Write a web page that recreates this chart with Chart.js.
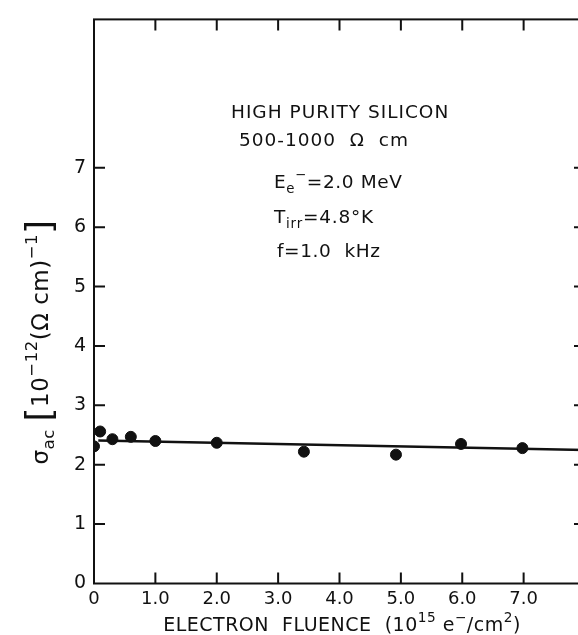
<!DOCTYPE html>
<html>
<head>
<meta charset="utf-8">
<script src="https://cdn.jsdelivr.net/npm/chart.js@4"></script>
<style>
  html, body { margin: 0; padding: 0; background: #fff; overflow: hidden; }
  #wrap { width: 600px; height: 635px; }
</style>
</head>
<body>
<div id="wrap"><canvas id="chart" width="600" height="635"></canvas></div>
<script>
// measured points
const fluence = [0, 0.1, 0.3, 0.6, 1.0, 2.0, 3.42, 4.92, 5.98, 6.98];
const sigmaAc = [2.31, 2.56, 2.43, 2.47, 2.40, 2.37, 2.22, 2.17, 2.35, 2.28];
// fitted line ends
const fitX = [0.07, 8.0];
const fitY = [2.41, 2.25];
// ticks
const xTicks = [0, 1, 2, 3, 4, 5, 6, 7];
const yTicks = [0, 1, 2, 3, 4, 5, 6, 7];

const FONT = '"DejaVu Sans", sans-serif';
const INK = '#111';

// draws a run of text with sub/superscript pieces
function drawRich(ctx, parts, x, y, size, align, spacing) {
  ctx.letterSpacing = (spacing || 0) + 'px';
  const fontOf = p => (p.s ? size * 0.72 : (p.big || size)) + 'px ' + FONT;
  const widths = parts.map(p => {
    ctx.font = fontOf(p);
    return ctx.measureText(p.t).width;
  });
  const total = widths.reduce((a, b) => a + b, 0);
  let cx = align === 'center' ? x - total / 2 : x;
  ctx.textBaseline = 'middle';
  ctx.textAlign = 'left';
  parts.forEach((p, i) => {
    ctx.font = fontOf(p);
    let dy = 0;
    if (p.s === 'sub') dy = size * 0.35;
    if (p.s === 'sup') dy = -size * 0.42;
    ctx.fillText(p.t, cx, y + dy);
    cx += widths[i];
  });
  ctx.letterSpacing = '0px';
}

const framePlugin = {
  id: 'frame',
  afterDraw(chart) {
    const { ctx, chartArea: a, scales: { x, y } } = chart;
    ctx.save();
    ctx.strokeStyle = INK;
    ctx.fillStyle = INK;
    ctx.lineWidth = 2;
    ctx.strokeRect(a.left, a.top, a.right - a.left, a.bottom - a.top);
    const len = 11;
    ctx.beginPath();
    xTicks.slice(1).forEach(v => {
      const px = x.getPixelForValue(v);
      ctx.moveTo(px, a.bottom); ctx.lineTo(px, a.bottom - len);
      ctx.moveTo(px, a.top); ctx.lineTo(px, a.top + len);
    });
    yTicks.slice(1).forEach(v => {
      const py = y.getPixelForValue(v);
      ctx.moveTo(a.left, py); ctx.lineTo(a.left + len, py);
      ctx.moveTo(a.right, py); ctx.lineTo(a.right - len, py);
    });
    ctx.stroke();

    // annotations
    drawRich(ctx, [{ t: 'HIGH PURITY SILICON' }], 231, 113, 18.5, 'left', 1);
    drawRich(ctx, [{ t: '500-1000  Ω  cm' }], 239, 141, 18.5, 'left', 1);
    drawRich(ctx, [{ t: 'E' }, { t: 'e', s: 'sub' }, { t: '−', s: 'sup' }, { t: '=2.0 MeV' }], 274, 183, 18.5, 'left', 0.6);
    drawRich(ctx, [{ t: 'T' }, { t: 'irr', s: 'sub' }, { t: '=4.8°K' }], 274, 218, 18.5, 'left', 0.8);
    drawRich(ctx, [{ t: 'f=1.0  kHz' }], 277, 252, 18.5, 'left', 0.6);

    // x axis title
    drawRich(ctx, [{ t: 'ELECTRON  FLUENCE  (10' }, { t: '15', s: 'sup' }, { t: ' e' }, { t: '−', s: 'sup' }, { t: '/cm' }, { t: '2', s: 'sup' }, { t: ')' }], 342, 626, 19, 'center', 0.5);

    // y axis title, rotated
    ctx.translate(42, 342);
    ctx.rotate(-Math.PI / 2);
    drawRich(ctx, [{ t: 'σ' }, { t: 'ac', s: 'sub' }, { t: ' ' }, { t: '[', big: 36 }, { t: '10' }, { t: '−12', s: 'sup' }, { t: '(Ω cm)' }, { t: '−1', s: 'sup' }, { t: ']', big: 36 }], 0, 0, 23, 'center', 0.5);
    ctx.restore();
  }
};

new Chart(document.getElementById('chart'), {
  type: 'scatter',
  data: {
    datasets: [
      {
        label: 'fit',
        data: fitX.map((v, i) => ({ x: v, y: fitY[i] })),
        showLine: true,
        borderColor: INK,
        borderWidth: 2.5,
        pointRadius: 0,
        order: 2
      },
      {
        label: 'sigma',
        data: fluence.map((v, i) => ({ x: v, y: sigmaAc[i] })),
        backgroundColor: INK,
        borderColor: INK,
        pointRadius: 5.5,
        order: 1
      }
    ]
  },
  options: {
    responsive: false,
    animation: false,
    devicePixelRatio: 1,
    layout: { padding: { top: 14, right: 15, left: 0, bottom: 0 } },
    plugins: { legend: { display: false }, tooltip: { enabled: false } },
    scales: {
      x: {
        type: 'linear', min: 0, max: 8,
        afterBuildTicks: s => { s.ticks = xTicks.map(v => ({ value: v })); },
        afterFit: s => { s.height = 51.5; },
        grid: { display: false, drawTicks: false },
        border: { display: false },
        ticks: {
          padding: 5, color: INK, maxRotation: 0,
          font: { family: FONT, size: 18 },
          callback: v => v === 0 ? '0' : Number(v).toFixed(1)
        }
      },
      y: {
        type: 'linear', min: 0, max: 9.5,
        afterBuildTicks: s => { s.ticks = yTicks.map(v => ({ value: v })); },
        afterFit: s => { s.width = 94; },
        grid: { display: false, drawTicks: false },
        border: { display: false },
        ticks: {
          padding: 8, color: INK,
          font: { family: FONT, size: 19 },
          callback: v => String(v)
        }
      }
    }
  },
  plugins: [framePlugin]
});
</script>
</body>
</html>
